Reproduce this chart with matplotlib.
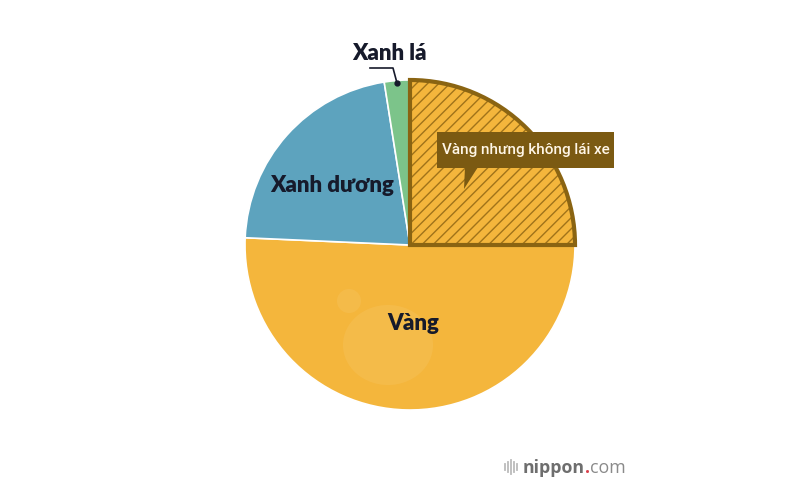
import matplotlib
matplotlib.use("Agg")
import matplotlib.pyplot as plt
from matplotlib.patches import Polygon, FancyBboxPatch, Circle, Ellipse, Wedge

plt.rcParams['font.family'] = ['Lato', 'DejaVu Sans']
plt.rcParams['hatch.linewidth'] = 1.0

# Data (clockwise from 12 o'clock)
categories = ["Vàng nhưng không lái xe", "Vàng", "Xanh dương", "Xanh lá"]
values = [25.0, 50.7, 21.8, 2.5]
colors = ["#F4B63C", "#F4B63C", "#5DA3BE", "#7CC48A"]

fig = plt.figure(figsize=(8, 5), dpi=100)
ax = fig.add_axes([0, 0, 1, 1])

cx, cy, r = 410, 255, 165
wedges, _ = ax.pie(values, colors=colors, startangle=90, counterclock=False,
                   center=(cx, cy), radius=r, frame=True,
                   wedgeprops=dict(edgecolor='white', linewidth=1.2))
ax.set_xlim(0, 800)
ax.set_ylim(0, 500)
ax.set_aspect('equal')
ax.axis('off')

# hatch (lighter brown) + thick dark-brown border on the first slice
hw = wedges[0]
hw.set_hatch('///')
hw.set_edgecolor('#A0731A')
hw.set_linewidth(0)
hw.set_zorder(3)
border = Wedge(hw.center, hw.r, hw.theta1, hw.theta2, fill=False,
               edgecolor='#8A6412', linewidth=3, zorder=4)
ax.add_patch(border)

# faint lighter blob in the yellow slice
ax.add_patch(Circle((349, 199), 12, facecolor='white', alpha=0.07, edgecolor='none', zorder=2))
ax.add_patch(Ellipse((388, 155), 90, 80, facecolor='white', alpha=0.07, edgecolor='none', zorder=2))

# Labels
lab = dict(fontsize=16, fontweight='heavy', color='#161A2B', ha='center', va='center')
ax.text(332, 315, categories[2], **lab)
ax.text(413, 177, categories[1], **lab)
ax.text(389, 447, categories[3], **lab)

# leader line for Xanh lá
ax.plot([370, 393, 397], [432, 432, 417], color='#161A2B', lw=1.2, zorder=5)
ax.plot([397], [417], marker='o', ms=3.5, color='#161A2B', zorder=5)

# Callout box
box_col = '#7B5A12'
ax.add_patch(FancyBboxPatch((437, 332), 177, 36, boxstyle='square,pad=0',
                            facecolor=box_col, edgecolor='none', zorder=6))
ax.add_patch(Polygon([[465, 333], [478, 333], [464, 311]], closed=True,
                     facecolor=box_col, edgecolor='none', zorder=6))
ax.text(526, 350, categories[0], fontsize=11, color='#FFF6E6',
        fontweight='medium', ha='center', va='center', zorder=7,
        family=['Roboto', 'DejaVu Sans'])

# Watermark
for i, h in enumerate([6, 10, 14, 10, 6]):
    ax.plot([505 + i * 3, 505 + i * 3], [33 - h / 2, 33 + h / 2], color='#BBBBBB', lw=1.3)
t1 = ax.text(523, 27, "nippon", fontsize=12.8, color='#6E6E6E', fontweight='bold',
             ha='left', va='baseline', family=['Open Sans', 'DejaVu Sans'])
t2 = ax.annotate(".", xy=(1, 0), xycoords=t1, xytext=(0, 0), textcoords='offset points',
                 fontsize=12.8, color='#D9404A', fontweight='bold', ha='left', va='bottom',
                 family=['Open Sans', 'DejaVu Sans'])
t3 = ax.annotate("com", xy=(1, 0), xycoords=t2, xytext=(0, 0), textcoords='offset points',
                 fontsize=12.8, color='#8A8A8A', ha='left', va='bottom',
                 family=['Open Sans', 'DejaVu Sans'])

fig.savefig("out.png", dpi=100, facecolor='white')
